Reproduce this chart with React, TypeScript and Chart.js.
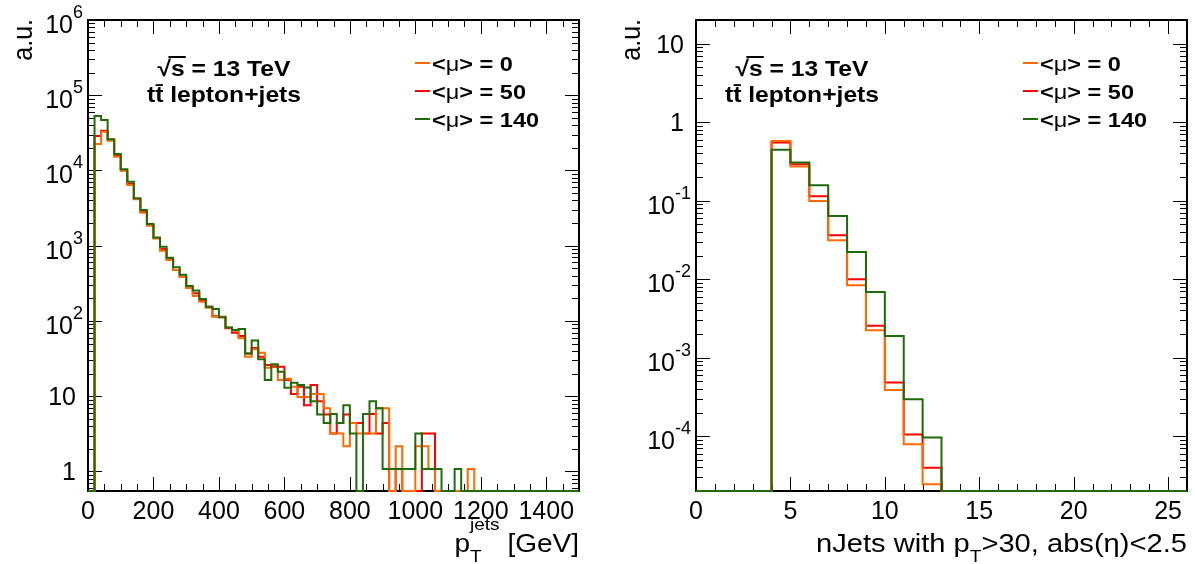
import React, { useEffect, useRef } from "react";
import { Chart, registerables } from "chart.js";

Chart.register(...registerables);

// ---------------------------------------------------------------------------
// Jet transverse momentum, 20 GeV bins from 0 to 1500 GeV (arbitrary units)
// ---------------------------------------------------------------------------
const ptBinWidth = 20;

const ptMu0 = [
  0, 22500, 32800, 24900, 15200, 9930, 6410, 4140, 2750, 1850,
  1255, 860, 646, 476, 384, 274, 215, 180, 150, 114,
  112, 82, 74, 59, 33.5, 42, 37.8, 23.9, 26, 16.4,
  17.1, 13.4, 9.8, 9.8, 10.7, 10.7, 6.9, 3.2, 3.2, 2.16,
  4.4, 3.2, 3.2, 3.2, 6.9, 6.9, 0, 2.16, 0, 0,
  2.16, 2.16, 1.08, 0, 0, 0, 0, 0, 1.08, 0,
  0, 0, 0, 0, 0, 0, 0, 0, 0, 0,
  0, 0, 0, 0, 0,
];

const ptMu50 = [
  0, 28700, 33800, 25700, 16100, 10100, 6600, 4180, 2830, 1890,
  1255, 904, 667, 476, 387, 277, 233, 188, 155, 116,
  114, 80, 70, 63, 37, 43.7, 33.5, 26, 24.7, 24.7,
  16.4, 10.7, 13.4, 7.6, 14.1, 8.6, 5.7, 3.2, 4.4, 5.7,
  4.4, 4.4, 3.2, 5.8, 3.2, 4.4, 0, 1.08, 0, 0,
  0, 3.2, 3.2, 0, 0, 0, 0, 0, 0, 0,
  0, 0, 0, 0, 0, 0, 0, 0, 0, 0,
  0, 0, 0, 0, 0,
];

const ptMu140 = [
  0, 53000, 46900, 26000, 16600, 10400, 7100, 4270, 2990, 1950,
  1290, 970, 690, 516, 412, 292, 255, 196, 155, 144,
  112, 82, 76, 78, 37, 55, 31, 16.4, 26.5, 21.2,
  13.0, 15.1, 14.1, 13.1, 8.6, 5.7, 4.4, 5.8, 4.4, 7.6,
  3.2, 0, 5.8, 8.6, 6.9, 1.08, 1.08, 1.08, 1.08, 1.08,
  3.2, 1.08, 1.08, 1.08, 0, 0, 1.08, 0, 0, 0,
  0, 0, 0, 0, 0, 0, 0, 0, 0, 0,
  0, 0, 0, 0, 0,
];

const ptTickLabels = [0, 200, 400, 600, 800, 1000, 1200, 1400];
const ptDecades = [0, 1, 2, 3, 4, 5, 6];

// ---------------------------------------------------------------------------
// Jet multiplicity (pT > 30, |eta| < 2.5), unit bins from 0 to 26
// ---------------------------------------------------------------------------
const nJetsBinWidth = 1;

const nJetsMu0 = [
  0, 0, 0, 0, 0.574, 0.273, 0.0989, 0.0313, 0.00836, 0.00224,
  0.000386, 0.000079, 0.0000243, 0, 0, 0, 0, 0, 0, 0,
  0, 0, 0, 0, 0, 0,
];

const nJetsMu50 = [
  0, 0, 0, 0, 0.552, 0.29, 0.1135, 0.0362, 0.00997, 0.00254,
  0.000483, 0.000105, 0.0000395, 0, 0, 0, 0, 0, 0, 0,
  0, 0, 0, 0, 0, 0,
];

const nJetsMu140 = [
  0, 0, 0, 0, 0.446, 0.305, 0.157, 0.0637, 0.0222, 0.00687,
  0.00188, 0.000296, 0.000096, 0, 0, 0, 0, 0, 0, 0,
  0, 0, 0, 0, 0, 0,
];

const nJetsTickLabels = [0, 5, 10, 15, 20, 25];
const nJetsDecades = [-4, -3, -2, -1, 0, 1];

// pile-up conditions shown in the legend
const muValues = [0, 50, 140];

// ---------------------------------------------------------------------------
// Styling
// ---------------------------------------------------------------------------
const COLOR_MU0 = "#ff6a00";
const COLOR_MU50 = "#ff0000";
const COLOR_MU140 = "#1f6b0a";
const SERIES_COLORS = [COLOR_MU0, COLOR_MU50, COLOR_MU140];

const FONT_FAMILY = '"Liberation Sans", Arial, Helvetica, sans-serif';
const SX_TEXT = 1.12; // horizontal stretch for annotations and titles
const TICK_SIZE = 25;
const EXP_SIZE = 18;

type Ctx = CanvasRenderingContext2D;

function setFont(ctx: Ctx, size: number, bold: boolean) {
  ctx.font = `${bold ? "bold " : ""}${size}px ${FONT_FAMILY}`;
}

function measure(ctx: Ctx, s: string, size: number, bold = false, sx = SX_TEXT) {
  setFont(ctx, size, bold);
  return ctx.measureText(s).width * sx;
}

function put(
  ctx: Ctx,
  s: string,
  x: number,
  y: number,
  size: number,
  bold = false,
  align: "left" | "right" | "center" = "left",
  sx = SX_TEXT
) {
  const w = measure(ctx, s, size, bold, sx);
  const x0 = align === "right" ? x - w : align === "center" ? x - w / 2 : x;
  ctx.save();
  ctx.translate(x0, y);
  ctx.scale(sx, 1);
  setFont(ctx, size, bold);
  ctx.textAlign = "left";
  ctx.textBaseline = "alphabetic";
  ctx.fillStyle = "#000";
  ctx.fillText(s, 0, 0);
  ctx.restore();
  return w;
}

function histogramPoints(values: number[], width: number, floor: number) {
  const pts: { x: number; y: number }[] = [];
  values.forEach((v, i) => {
    const y = v > 0 ? v : floor; // empty bins sit on the axis floor
    pts.push({ x: i * width, y });
    pts.push({ x: (i + 1) * width, y });
  });
  return pts;
}

type PanelConfig = {
  series: number[][];
  binWidth: number;
  xMin: number;
  xMax: number;
  xMajor: number;
  xMinor: number;
  xLabels: number[];
  yMin: number;
  yMax: number;
  yDecades: number[];
  noteCenter: number; // offset of the annotation block from the frame's left edge
  xTitle: "pt" | "njets";
  padding: { left: number; top: number; right: number; bottom: number };
  width: number;
  height: number;
};

function decorations(cfg: PanelConfig) {
  return {
    id: "rootFrame",
    beforeDatasetsDraw(chart: any) {
      const ctx: Ctx = chart.ctx;
      const a = chart.chartArea;
      const ax = chart.scales.x;
      const ay = chart.scales.y;
      ctx.save();
      ctx.strokeStyle = "#000";

      // tick marks on all four sides
      ctx.lineWidth = 1;
      ctx.beginPath();
      const n = Math.round((cfg.xMax - cfg.xMin) / cfg.xMinor);
      for (let i = 0; i <= n; i++) {
        const v = cfg.xMin + i * cfg.xMinor;
        const px = Math.round(ax.getPixelForValue(v)) + 0.5;
        const r = v / cfg.xMajor;
        const len = Math.abs(r - Math.round(r)) < 1e-6 ? 14 : 7;
        ctx.moveTo(px, a.bottom);
        ctx.lineTo(px, a.bottom - len);
        ctx.moveTo(px, a.top);
        ctx.lineTo(px, a.top + len);
      }
      const dLo = Math.floor(Math.log10(cfg.yMin));
      const dHi = Math.ceil(Math.log10(cfg.yMax));
      for (let d = dLo; d <= dHi; d++) {
        for (let m = 1; m <= 9; m++) {
          const v = m * Math.pow(10, d);
          if (v < cfg.yMin * 0.999 || v > cfg.yMax * 1.001) continue;
          const py = Math.round(ay.getPixelForValue(v)) + 0.5;
          const len = m === 1 ? 14 : 7;
          ctx.moveTo(a.left, py);
          ctx.lineTo(a.left + len, py);
          ctx.moveTo(a.right, py);
          ctx.lineTo(a.right - len, py);
        }
      }
      ctx.stroke();

      // frame
      ctx.lineWidth = 2;
      ctx.strokeRect(a.left, a.top, a.right - a.left, a.bottom - a.top);
      ctx.restore();
    },
    afterDraw(chart: any) {
      const ctx: Ctx = chart.ctx;
      const a = chart.chartArea;
      const ax = chart.scales.x;
      const ay = chart.scales.y;
      ctx.save();

      // x tick labels
      cfg.xLabels.forEach((v) => {
        put(ctx, String(v), ax.getPixelForValue(v), 519, TICK_SIZE, false, "center", 1);
      });

      // y tick labels (powers of ten)
      cfg.yDecades.forEach((d) => {
        const py = ay.getPixelForValue(Math.pow(10, d));
        if (d === 0) put(ctx, "1", a.left - 12, py + 9, TICK_SIZE, false, "right", 1);
        else if (d === 1) put(ctx, "10", a.left - 12, py + 9, TICK_SIZE, false, "right", 1);
        else {
          const right = a.left - 5;
          const ew = put(ctx, String(d), right, py - 2, EXP_SIZE, false, "right", 1);
          put(ctx, "10", right - ew, py + 13, TICK_SIZE, false, "right", 1);
        }
      });

      // y axis title
      ctx.save();
      ctx.translate(a.left - 56, a.top - 1);
      ctx.scale(SX_TEXT, 1);
      ctx.rotate(-Math.PI / 2);
      setFont(ctx, 25, false);
      ctx.textAlign = "right";
      ctx.textBaseline = "alphabetic";
      ctx.fillStyle = "#000";
      ctx.fillText("a.u.", 0, 0);
      ctx.restore();

      // x axis title
      const base = 552;
      if (cfg.xTitle === "pt") {
        let x = a.right;
        const wUnit = measure(ctx, " [GeV]", 25);
        x -= wUnit;
        put(ctx, " [GeV]", x, base, 25);
        const wSup = measure(ctx, "jets", 17);
        x -= wSup;
        put(ctx, "jets", x, base - 22, 17);
        put(ctx, "T", x, base + 10, 17);
        const wp = measure(ctx, "p", 25);
        x -= wp;
        put(ctx, "p", x, base, 25);
      } else {
        const s1 = "nJets with p";
        const s2 = "T";
        const s3 = ">30, abs(η)<2.5";
        const total = measure(ctx, s1, 26) + measure(ctx, s2, 17) + measure(ctx, s3, 26);
        let x = a.right - total;
        x += put(ctx, s1, x, base, 26);
        x += put(ctx, s2, x, base + 10, 17);
        put(ctx, s3, x, base, 26);
      }

      // process annotation
      const cx = a.left + cfg.noteCenter;
      const wRoot = measure(ctx, "√", 22, true);
      const wRest = measure(ctx, "s = 13 TeV", 22, true);
      const wS = measure(ctx, "s", 22, true);
      const x0 = cx - (wRoot + wRest) / 2;
      put(ctx, "√", x0, 76, 22, true);
      put(ctx, "s = 13 TeV", x0 + wRoot, 76, 22, true);
      ctx.strokeStyle = "#000";
      ctx.lineWidth = 2;
      ctx.beginPath();
      ctx.moveTo(x0 + wRoot * 0.8, 57);
      ctx.lineTo(x0 + wRoot + wS + 1, 57);
      ctx.stroke();
      put(ctx, "tt\u0304 lepton+jets", cx, 102, 22, true, "center");

      // legend
      const lx = a.left + 327;
      const rows = [63, 91, 119];
      muValues.forEach((mu, i) => {
        const y = rows[i];
        ctx.strokeStyle = SERIES_COLORS[i];
        ctx.lineWidth = 2;
        ctx.beginPath();
        ctx.moveTo(lx, y);
        ctx.lineTo(lx + 15, y);
        ctx.stroke();
        let tx = lx + 17;
        const b = y + 7.5;
        tx += put(ctx, "<", tx, b, 21, true);
        tx += put(ctx, "μ", tx, b, 21, false);
        put(ctx, `> = ${mu}`, tx, b, 21, true);
      });

      ctx.restore();
    },
  };
}

function HistPanel({ cfg, left }: { cfg: PanelConfig; left: number }) {
  const ref = useRef<HTMLCanvasElement | null>(null);

  useEffect(() => {
    if (!ref.current) return;
    const [s0, s50, s140] = cfg.series;
    const mk = (values: number[], color: string) => ({
      data: histogramPoints(values, cfg.binWidth, cfg.yMin),
      borderColor: color,
      borderWidth: 2,
      fill: false,
      pointRadius: 0,
      tension: 0,
      clip: 3,
    });
    const chart = new Chart(ref.current, {
      type: "line",
      data: {
        // first dataset is painted last (on top)
        datasets: [mk(s140, COLOR_MU140), mk(s0, COLOR_MU0), mk(s50, COLOR_MU50)],
      },
      options: {
        animation: false,
        responsive: false,
        devicePixelRatio: 1,
        layout: { padding: cfg.padding },
        scales: {
          x: { type: "linear", min: cfg.xMin, max: cfg.xMax, display: false },
          y: { type: "logarithmic", min: cfg.yMin, max: cfg.yMax, display: false },
        },
        plugins: {
          legend: { display: false },
          tooltip: { enabled: false },
        },
        events: [],
      },
      plugins: [decorations(cfg)],
    } as any);
    return () => chart.destroy();
  }, [cfg]);

  return (
    <canvas
      ref={ref}
      width={cfg.width}
      height={cfg.height}
      style={{ position: "absolute", left, top: 0, width: cfg.width, height: cfg.height }}
    />
  );
}

const ptPanel: PanelConfig = {
  series: [ptMu0, ptMu50, ptMu140],
  binWidth: ptBinWidth,
  xMin: 0,
  xMax: 1500,
  xMajor: 200,
  xMinor: 50,
  xLabels: ptTickLabels,
  yMin: 0.55,
  yMax: 1e6,
  yDecades: ptDecades,
  noteCenter: 136,
  xTitle: "pt",
  padding: { left: 88, top: 20, right: 18, bottom: 73 },
  width: 597,
  height: 564,
};

const nJetsPanel: PanelConfig = {
  series: [nJetsMu0, nJetsMu50, nJetsMu140],
  binWidth: nJetsBinWidth,
  xMin: 0,
  xMax: 26,
  xMajor: 5,
  xMinor: 1,
  xLabels: nJetsTickLabels,
  yMin: 2e-5,
  yMax: 20,
  yDecades: nJetsDecades,
  noteCenter: 106,
  xTitle: "njets",
  padding: { left: 99, top: 20, right: 8, bottom: 73 },
  width: 598,
  height: 564,
};

export default function App() {
  return (
    <div
      style={{
        position: "fixed",
        left: 0,
        top: 0,
        width: 1195,
        height: 564,
        background: "#fff",
        overflow: "hidden",
      }}
    >
      <HistPanel cfg={ptPanel} left={0} />
      <HistPanel cfg={nJetsPanel} left={597} />
    </div>
  );
}
